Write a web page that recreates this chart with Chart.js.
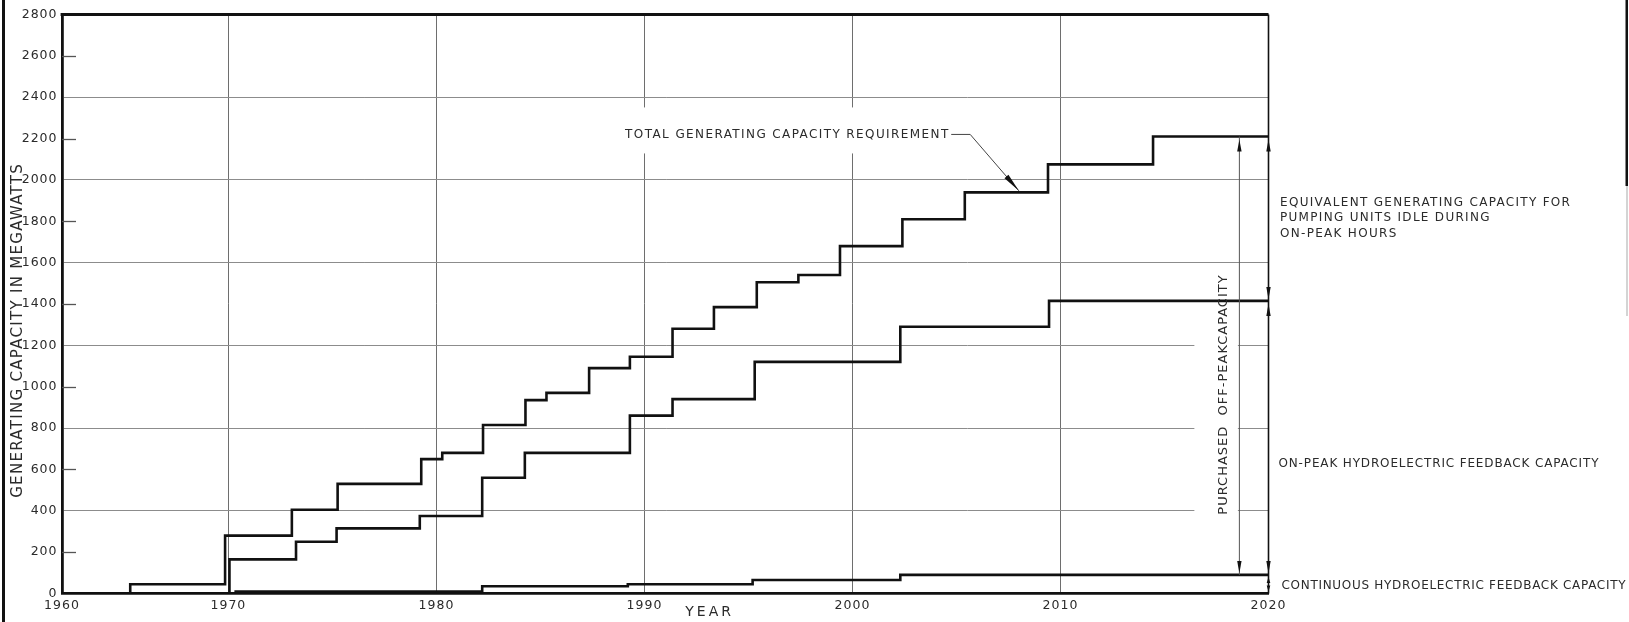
<!DOCTYPE html>
<html>
<head>
<meta charset="utf-8">
<title>Generating capacity requirement</title>
<script src="https://cdn.jsdelivr.net/npm/chart.js@4.4.1/dist/chart.umd.min.js"></script>
<style>
  html, body { margin: 0; padding: 0; background: #fff; }
  #wrap { width: 1629px; height: 622px; position: relative; }
</style>
</head>
<body>
<div id="wrap"><canvas id="chart" width="1629" height="622"></canvas></div>
<script>
// ---- Step series: the year each level starts, and the level in megawatts ----
const TOTAL_YEARS = [1960, 1964.1, 1969.8, 1973.05, 1975.25, 1979.27, 1980.28, 1982.24, 1984.28, 1985.29, 1987.34, 1989.3, 1991.35, 1993.34, 1995.4, 1997.4, 1999.4, 2002.4, 2005.4, 2009.4, 2014.45, 2020];
const TOTAL_MW    = [0, 45, 280, 405, 530, 650, 680, 815, 935, 970, 1090, 1145, 1280, 1385, 1505, 1540, 1680, 1810, 1940, 2075, 2210, 2210];

const ONPEAK_YEARS = [1960, 1970.05, 1973.25, 1975.2, 1979.2, 1982.2, 1984.25, 1989.3, 1991.35, 1995.3, 2002.3, 2009.45, 2020];
const ONPEAK_MW    = [0, 165, 250, 315, 375, 560, 680, 860, 940, 1120, 1290, 1415, 1415];

const CONT_YEARS = [1960, 1970.35, 1982.2, 1989.2, 1995.2, 2002.3, 2020];
const CONT_MW    = [0, 10, 35, 45, 65, 90, 90];

// ---- Axis ticks ----
const YEAR_TICKS = [1960, 1970, 1980, 1990, 2000, 2010, 2020];
const MW_TICKS   = [0, 200, 400, 600, 800, 1000, 1200, 1400, 1600, 1800, 2000, 2200, 2400, 2600, 2800];
const MW_GRID_STEP = 400;

// ---- Text ----
const Y_TITLE = 'GENERATING CAPACITY IN MEGAWATTS';
const X_TITLE = 'YEAR';
const TOTAL_LABEL = 'TOTAL GENERATING CAPACITY REQUIREMENT';
const EQUIV_LABEL = ['EQUIVALENT GENERATING CAPACITY FOR', 'PUMPING UNITS IDLE DURING', 'ON-PEAK HOURS'];
const ONPEAK_LABEL = 'ON-PEAK HYDROELECTRIC FEEDBACK CAPACITY';
const CONT_LABEL = 'CONTINUOUS HYDROELECTRIC FEEDBACK CAPACITY';
const PURCHASED_LABEL = 'PURCHASED  OFF-PEAKCAPACITY';

const FONT = '"DejaVu Sans", "Liberation Sans", sans-serif';
const INK = '#2b2b2b';

// The first decade of the year axis is drawn at 0.8 of the width of later decades.
const SQUEEZE_END = 1970;
const SQUEEZE = 0.8;
const squeeze = v => (v < SQUEEZE_END ? SQUEEZE_END - (SQUEEZE_END - v) * SQUEEZE : v);
const unsqueeze = u => (u < SQUEEZE_END ? SQUEEZE_END - (SQUEEZE_END - u) / SQUEEZE : u);

class SqueezedYearScale extends Chart.LinearScale {
  determineDataLimits() {
    super.determineDataLimits();
    this.min = squeeze(this.min);
  }
  buildTicks() {
    return YEAR_TICKS.map(v => ({ value: v }));
  }
  getPixelForValue(v) {
    return super.getPixelForValue(squeeze(v));
  }
  getValueForPixel(p) {
    return unsqueeze(super.getValueForPixel(p));
  }
}
SqueezedYearScale.id = 'squeezedYear';
SqueezedYearScale.defaults = Chart.LinearScale.defaults;
Chart.register(SqueezedYearScale);

const pairs = (xs, ys) => xs.map((x, i) => ({ x, y: ys[i] }));
const levelAt = (xs, ys, year) => {
  let v = ys[0];
  for (let i = 0; i < xs.length; i++) if (xs[i] <= year) v = ys[i];
  return v;
};

// Text with letter spacing; the trailing gap the canvas adds is removed from the width
function spacedText(ctx, text, x, y, opts) {
  const { size, spacing = 0, align = 'left', rotate = 0, color = INK } = opts;
  ctx.save();
  ctx.font = `${size}px ${FONT}`;
  ctx.letterSpacing = spacing + 'px';
  ctx.fillStyle = color;
  ctx.textBaseline = 'middle';
  ctx.textAlign = 'left';
  const w = ctx.measureText(text).width - spacing;
  ctx.translate(x, y);
  if (rotate) ctx.rotate(rotate);
  let sx = 0;
  if (align === 'center') sx = -w / 2;
  else if (align === 'right') sx = -w;
  ctx.fillText(text, sx, 0);
  ctx.restore();
  return w;
}

function measureSpaced(ctx, text, size, spacing) {
  ctx.save();
  ctx.font = `${size}px ${FONT}`;
  ctx.letterSpacing = spacing + 'px';
  const w = ctx.measureText(text).width - spacing;
  ctx.restore();
  return w;
}

// Narrow filled arrowhead; dir = -1 points up, +1 points down
function arrowHead(ctx, x, tipY, dir, len = 12, half = 2.2) {
  ctx.beginPath();
  ctx.moveTo(x, tipY);
  ctx.lineTo(x - half, tipY - dir * len);
  ctx.lineTo(x + half, tipY - dir * len);
  ctx.closePath();
  ctx.fill();
}

const TOTAL_TEXT = { size: 12, spacing: 1.4 };
const PURCHASED_YEAR = 2018.6;
const LEADER_TIP_YEAR = 2008.0;

const annotate = {
  id: 'annotate',
  beforeDraw(chart) {
    chart.ctx.letterSpacing = '1px';
  },
  beforeDatasetsDraw(chart) {
    const { ctx, chartArea: a, scales: { x, y } } = chart;
    ctx.save();
    ctx.letterSpacing = '0px';

    // short inner ticks at the levels without a grid line
    ctx.strokeStyle = '#555';
    ctx.lineWidth = 1.3;
    MW_TICKS.filter(v => v % MW_GRID_STEP !== 0).forEach(v => {
      const py = Math.round(y.getPixelForValue(v)) + 0.5;
      ctx.beginPath();
      ctx.moveTo(a.left, py);
      ctx.lineTo(a.left + 14, py);
      ctx.stroke();
    });

    // clear the grid behind the in-plot captions
    ctx.fillStyle = '#fff';
    const lastTotal = TOTAL_MW[TOTAL_MW.length - 1];
    const ty = y.getPixelForValue(lastTotal + 10);
    const tw = measureSpaced(ctx, TOTAL_LABEL, TOTAL_TEXT.size, TOTAL_TEXT.spacing);
    const tLeft = x.getPixelForValue(1989.07);
    ctx.fillRect(tLeft - 6, ty - 27, tw + 10, 46);

    const dimX = x.getPixelForValue(PURCHASED_YEAR);
    const py = y.getPixelForValue(960);
    ctx.fillRect(dimX - 45, py - 127, 43.5, 254);
    ctx.restore();
  },
  afterDraw(chart) {
    const { ctx, chartArea: a, scales: { x, y } } = chart;
    ctx.save();
    ctx.letterSpacing = '0px';

    // top and right frame
    ctx.strokeStyle = '#111';
    ctx.lineWidth = 2.8;
    ctx.beginPath();
    ctx.moveTo(a.left - 1.4, a.top);
    ctx.lineTo(a.right, a.top);
    ctx.stroke();
    ctx.lineWidth = 1.6;
    ctx.beginPath();
    ctx.moveTo(a.right, a.top);
    ctx.lineTo(a.right, a.bottom);
    ctx.stroke();

    // axis titles
    spacedText(ctx, Y_TITLE, 18, 331, { size: 15, spacing: 1.3, align: 'center', rotate: -Math.PI / 2 });
    spacedText(ctx, X_TITLE, x.getPixelForValue(1993.06), 612, { size: 14, spacing: 3, align: 'center' });

    // total requirement caption with leader
    const lastTotal = TOTAL_MW[TOTAL_MW.length - 1];
    const lastOn = ONPEAK_MW[ONPEAK_MW.length - 1];
    const lastCont = CONT_MW[CONT_MW.length - 1];
    const ty = y.getPixelForValue(lastTotal + 10);
    const tLeft = x.getPixelForValue(1989.07);
    const tw = spacedText(ctx, TOTAL_LABEL, tLeft, ty, { size: TOTAL_TEXT.size, spacing: TOTAL_TEXT.spacing });
    const tipX = x.getPixelForValue(LEADER_TIP_YEAR);
    const tipY = y.getPixelForValue(levelAt(TOTAL_YEARS, TOTAL_MW, LEADER_TIP_YEAR)) - 1.5;
    const kneeX = tLeft + tw + 22;
    ctx.strokeStyle = '#444';
    ctx.lineWidth = 1;
    ctx.beginPath();
    ctx.moveTo(tLeft + tw + 3, ty);
    ctx.lineTo(kneeX, ty);
    ctx.lineTo(tipX, tipY);
    ctx.stroke();
    {
      const dx = tipX - kneeX, dy = tipY - ty, L = Math.hypot(dx, dy);
      const ux = dx / L, uy = dy / L, len = 19, half = 2.6;
      const bx = tipX - ux * len, by = tipY - uy * len;
      ctx.fillStyle = '#111';
      ctx.beginPath();
      ctx.moveTo(tipX, tipY);
      ctx.lineTo(bx - uy * half, by + ux * half);
      ctx.lineTo(bx + uy * half, by - ux * half);
      ctx.closePath();
      ctx.fill();
    }

    // dimension lines at the right end
    const yT = y.getPixelForValue(lastTotal);
    const yO = y.getPixelForValue(lastOn);
    const yC = y.getPixelForValue(lastCont);
    const y0 = y.getPixelForValue(0);
    const dimX = x.getPixelForValue(PURCHASED_YEAR);
    const rx = a.right;
    ctx.strokeStyle = '#555';
    ctx.lineWidth = 1;
    ctx.beginPath();
    ctx.moveTo(dimX, yT);
    ctx.lineTo(dimX, yC);
    ctx.stroke();
    ctx.fillStyle = '#111';
    arrowHead(ctx, dimX, yT + 3, -1);
    arrowHead(ctx, dimX, yC - 2, 1);
    arrowHead(ctx, rx, yT + 3, -1);
    arrowHead(ctx, rx, yO - 2, 1);
    arrowHead(ctx, rx, yO + 3, -1);
    arrowHead(ctx, rx, yC - 2, 1);
    arrowHead(ctx, rx, yC + 2, -1, 6, 1.8);
    arrowHead(ctx, rx, y0 - 2, 1, 6, 1.8);

    spacedText(ctx, PURCHASED_LABEL, dimX - 16, y.getPixelForValue(960), { size: 13, spacing: 1, align: 'center', rotate: -Math.PI / 2 });

    // captions to the right of the frame
    const eqMid = y.getPixelForValue((lastTotal + lastOn) / 2);
    EQUIV_LABEL.forEach((line, i) => {
      spacedText(ctx, line, rx + 11.5, eqMid - 16 + i * 15.5, { size: 12, spacing: 1.3 });
    });
    spacedText(ctx, ONPEAK_LABEL, rx + 10, y.getPixelForValue(625), { size: 12, spacing: 0.85 });
    spacedText(ctx, CONT_LABEL, rx + 13, y.getPixelForValue(lastCont / 2) + 1.5, { size: 12, spacing: 0.7 });

    // page edges
    ctx.fillStyle = '#111';
    ctx.fillRect(2, 0, 3, 622);
    ctx.fillRect(1625.5, 0, 2.5, 186);
    ctx.fillStyle = '#aaa';
    ctx.fillRect(1626.5, 186, 1, 130);
    ctx.restore();
  }
};

const stepLine = (xs, ys) => ({
  data: pairs(xs, ys),
  stepped: 'before',
  borderColor: '#111',
  borderWidth: 2.6,
  pointRadius: 0,
  fill: false,
  borderCapStyle: 'butt',
  borderJoinStyle: 'miter'
});

Chart.defaults.font.family = FONT;
Chart.defaults.color = INK;

new Chart(document.getElementById('chart'), {
  type: 'line',
  data: {
    datasets: [
      stepLine(TOTAL_YEARS, TOTAL_MW),
      stepLine(ONPEAK_YEARS, ONPEAK_MW),
      stepLine(CONT_YEARS, CONT_MW)
    ]
  },
  options: {
    responsive: false,
    animation: false,
    devicePixelRatio: 1,
    layout: { padding: { left: 0, top: 14.5, right: 360.5, bottom: 0 } },
    plugins: { legend: { display: false }, tooltip: { enabled: false } },
    scales: {
      x: {
        type: 'squeezedYear',
        position: 'bottom',
        min: YEAR_TICKS[0],
        max: YEAR_TICKS[YEAR_TICKS.length - 1],
        afterFit: s => { s.height = 28.5; },
        grid: {
          drawTicks: false,
          lineWidth: 1,
          color: c => (c.tick && c.tick.value > YEAR_TICKS[0] && c.tick.value < YEAR_TICKS[YEAR_TICKS.length - 1]) ? '#6e6e6e' : 'rgba(0,0,0,0)'
        },
        border: { display: true, color: '#111', width: 2.8 },
        ticks: {
          autoSkip: false,
          maxRotation: 0,
          padding: 5,
          font: { size: 12.5 },
          color: INK,
          callback: v => String(v)
        }
      },
      y: {
        type: 'linear',
        min: MW_TICKS[0],
        max: MW_TICKS[MW_TICKS.length - 1],
        afterFit: s => { s.width = 62; },
        afterBuildTicks: s => { s.ticks = MW_TICKS.map(v => ({ value: v })); },
        grid: {
          drawTicks: false,
          lineWidth: 1,
          color: c => (c.tick && c.tick.value % MW_GRID_STEP === 0 && c.tick.value > MW_TICKS[0] && c.tick.value < MW_TICKS[MW_TICKS.length - 1]) ? '#8c8c8c' : 'rgba(0,0,0,0)'
        },
        border: { display: true, color: '#111', width: 2.8 },
        ticks: {
          autoSkip: false,
          padding: 4.5,
          font: { size: 12.5 },
          color: INK,
          callback: v => String(v)
        }
      }
    }
  },
  plugins: [annotate]
});
</script>
</body>
</html>
